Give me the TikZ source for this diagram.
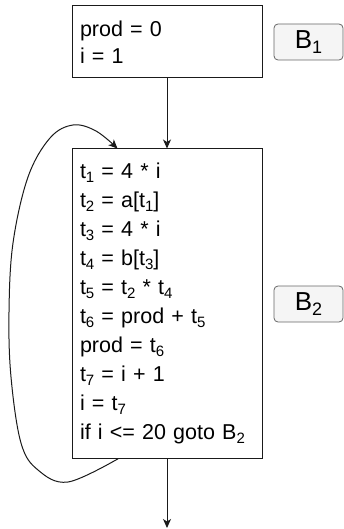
\documentclass[tikz,border=0pt]{standalone}
\usepackage{fontspec}
\setmainfont{Liberation Sans}
\usetikzlibrary{arrows.meta,calc}
\newcommand{\sbs}[1]{\raisebox{-0.35ex}{\fontsize{15}{15}\selectfont #1}}
\newcommand{\lsbs}[1]{\raisebox{-0.35ex}{\fontsize{18}{18}\selectfont #1}}
\definecolor{lblfill}{HTML}{F5F5F5}
\definecolor{lbldraw}{HTML}{666666}
\definecolor{ln}{HTML}{1A1A1A}
\begin{document}
\begin{tikzpicture}[x=1pt,y=1pt,
  blockbox/.style={draw=ln,line width=1pt,rectangle,minimum width=190pt,text width=174pt,inner xsep=8pt,align=left,font=\fontsize{21.5}{27}\selectfont},
  lblbox/.style={draw=lbldraw,fill=lblfill,line width=0.8pt,rounded corners=4pt,minimum width=69pt,minimum height=36pt,inner sep=0pt,font=\fontsize{26}{26}\selectfont},
  arr/.style={draw=ln,line width=1pt,-{Stealth[length=9pt,width=8pt,inset=2.5pt]}}]
\useasboundingbox (0,0) rectangle (344,-529);
\node[blockbox,minimum height=72pt] (b1) at (167,-42) {prod = 0\\ i = 1};
\node[blockbox,minimum height=309pt,font=\fontsize{21.5}{29}\selectfont] (b2) at (167,-303.5) {%
t\sbs{1} = 4 * i\\
t\sbs{2} = a[t\sbs{1}]\\
t\sbs{3} = 4 * i\\
t\sbs{4} = b[t\sbs{3}]\\
t\sbs{5} = t\sbs{2} * t\sbs{4}\\
t\sbs{6} = prod + t\sbs{5}\\
prod = t\sbs{6}\\
t\sbs{7} = i + 1\\
i = t\sbs{7}\\
if i <= 20 goto B\sbs{2}};
\node[lblbox] (l1) at (308.5,-42) {B\lsbs{1}};
\node[lblbox] (l2) at (308.5,-304) {B\lsbs{2}};
\coordinate (out) at (167,-528);
\coordinate (ls) at ($(b2.south west)+(47,0)$);
\coordinate (le) at ($(b2.north west)+(46,0)$);
\draw[arr] (b1.south) -- (b2.north);
\draw[arr] (b2.south) -- (out);
\draw[arr] plot[smooth,tension=0.6] coordinates {(ls) (68,-482) (38,-470) (21,-443) (11,-377) (9,-312) (13,-243) (28,-177) (50,-138) (73,-125) (96,-131) (le)};
\end{tikzpicture}
\end{document}
